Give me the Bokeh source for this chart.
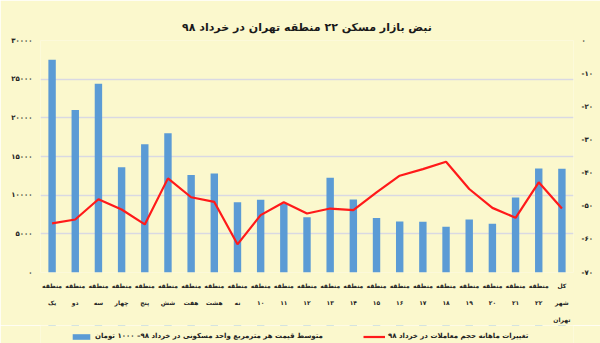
from bokeh.plotting import figure
from bokeh.models import (Range1d, LinearAxis, FixedTicker, Legend, LegendItem,
                          ColumnDataSource)
from bokeh.layouts import column
from bokeh.embed import file_html
from bokeh.resources import INLINE

# ---------------- data ----------------
title_text = "نبض بازار مسکن ۲۲ منطقه تهران در خرداد ۹۸"
district_names = ["یک", "دو", "سه", "چهار", "پنج", "شش", "هفت", "هشت", "نه",
                  "۱۰", "۱۱", "۱۲", "۱۳", "۱۴", "۱۵", "۱۶", "۱۷", "۱۸", "۱۹",
                  "۲۰", "۲۱", "۲۲"]
total_label = ["کل", "شهر", "تهران"]
price = [27500, 21000, 24400, 13600, 16600, 18000, 12600, 12800, 9100, 9400,
         8900, 7150, 12250, 9450, 7050, 6600, 6550, 5900, 6850, 6300, 9700,
         13450, 13400]
volume_change = [-55.2, -54.0, -47.9, -51.0, -55.5, -41.6, -47.3, -48.7, -61.5,
                 -52.7, -48.8, -52.2, -50.7, -51.2, -45.8, -40.8, -38.8, -36.6,
                 -44.8, -50.5, -53.5, -42.8, -50.7]
left_ticks = [0, 5000, 10000, 15000, 20000, 25000, 30000]
right_ticks = [0, -10, -20, -30, -40, -50, -60, -70]
price_label = "متوسط قیمت هر مترمربع واحد مسکونی در خرداد ۹۸– ۱۰۰۰ تومان"
change_label = "تغییرات ماهانه حجم معاملات در خرداد ۹۸"

# ---------------- helpers ----------------
FA = str.maketrans("0123456789", "۰۱۲۳۴۵۶۷۸۹")
def fa(n):
    return str(n).translate(FA)

n = len(price)
xs = list(range(n))
line1 = ["منطقه"] * (n - 1) + [total_label[0]]
line2 = district_names + [total_label[1]]
src = ColumnDataSource(dict(x=xs, price=price, chg=volume_change))

BG = "#FBF8CD"
FONT = "DejaVu Sans"
BAR = "#5B9BD5"
RED = "#FF1A1A"

p = figure(width=600, height=325, x_range=Range1d(-0.5, 22.5),
           y_range=Range1d(0, 30000), output_backend="svg",
           toolbar_location=None, background_fill_color=BG,
           border_fill_color=BG, min_border_left=40, min_border_right=27,
           min_border_top=40, min_border_bottom=50, outline_line_color=None)

p.title.text = title_text
p.title.align = "center"
p.title.text_font = FONT
p.title.text_font_size = "11px"
p.title.text_font_style = "bold"
p.title.text_color = "#1a1a1a"
p.title.standoff = 13

p.extra_y_ranges = {"chg": Range1d(-70, 0)}

bars = p.vbar(x="x", top="price", width=0.32, source=src,
              fill_color=BAR, line_color=None)
line = p.line(x="x", y="chg", source=src, y_range_name="chg",
              line_color=RED, line_width=2.2)

# grid
p.xgrid.visible = False
p.ygrid.ticker = FixedTicker(ticks=left_ticks)
p.ygrid.grid_line_color = "#D9D9E3"
p.ygrid.grid_line_width = 1.5

# left axis
ya = p.yaxis[0]
ya.ticker = FixedTicker(ticks=left_ticks)
ya.major_label_overrides = {t: fa(t) for t in left_ticks}

# right axis
ra = LinearAxis(y_range_name="chg", ticker=FixedTicker(ticks=right_ticks))
ra.major_label_overrides = {t: ("-" + fa(-t) if t < 0 else fa(t)) for t in right_ticks}
p.add_layout(ra, "right")

# bottom axes: three stacked label rows
xa = p.xaxis[0]
xa.ticker = FixedTicker(ticks=xs)
xa.major_label_overrides = {i: s for i, s in zip(xs, line1)}
xa2 = LinearAxis(ticker=FixedTicker(ticks=xs),
                 major_label_overrides={i: s for i, s in zip(xs, line2)})
xa3 = LinearAxis(ticker=FixedTicker(ticks=[xs[-1]]),
                 major_label_overrides={xs[-1]: total_label[2]})
p.add_layout(xa2, "below")
p.add_layout(xa3, "below")

for ax in [ya, ra, xa, xa2, xa3]:
    ax.axis_line_color = None
    ax.major_tick_line_color = None
    ax.minor_tick_line_color = None
    ax.major_tick_out = 0
    ax.major_tick_in = 0
    ax.major_label_text_font = FONT
    ax.major_label_text_font_style = "bold"
    ax.major_label_text_color = "#222222"
for ax in [ya, ra]:
    ax.major_label_text_font_size = "7px"
    ax.major_label_standoff = 8
for ax in [xa, xa2, xa3]:
    ax.major_label_text_font_size = "6px"
xa.major_label_standoff = 9
xa2.major_label_standoff = 7
xa3.major_label_standoff = 7

# ---------------- legend strip ----------------
# proxies use the real data source; the strip's y range keeps them out of view
lg = figure(width=600, height=18, x_range=Range1d(-0.5, 22.5),
            y_range=Range1d(-1001, -1000), output_backend="svg",
            toolbar_location=None, background_fill_color=BG,
            border_fill_color=BG, min_border=0, outline_line_color=None)
lg.axis.visible = False
lg.grid.visible = False
kb = lg.vbar(x="x", top="price", width=0.32, source=src,
             fill_color=BAR, line_color=None)
kl = lg.line(x="x", y="chg", source=src, line_color=RED, line_width=2.2)
legend = Legend(items=[LegendItem(label=price_label, renderers=[kb]),
                       LegendItem(label=change_label, renderers=[kl])],
                orientation="horizontal", location=(30, 1),
                border_line_color=None, background_fill_alpha=0,
                label_text_font=FONT, label_text_font_size="7px",
                label_text_font_style="bold", label_text_color="#222222",
                glyph_width=22, glyph_height=7, label_height=12, spacing=40,
                padding=2, margin=0, label_standoff=3)
lg.add_layout(legend, "center")

page = column(p, lg, spacing=0)
open("out.html", "w").write(file_html(page, INLINE))
